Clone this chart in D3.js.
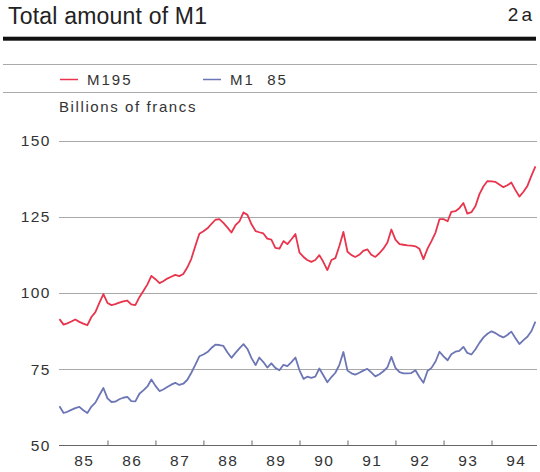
<!DOCTYPE html>
<html><head><meta charset="utf-8">
<script src="https://cdn.jsdelivr.net/npm/d3@7"></script>
<style>body{margin:0;background:#fff;}svg{display:block;font-family:"Liberation Sans",Arial,sans-serif;}</style>
</head><body>
<svg id="c" width="540" height="472"></svg>
<script>
const years = ["85","86","87","88","89","90","91","92","93","94"];
const yTicks = [50, 75, 100, 125, 150];
const seriesNames = ["M195", "M1  85"];
const m195 = [
 91.4,89.6,90.0,90.6,91.3,90.5,89.9,89.4,92.1,93.7,96.8,99.6,
 96.7,96.0,96.3,96.8,97.2,97.5,96.2,96.0,98.6,100.6,102.8,105.6,
 104.5,103.2,103.8,104.7,105.3,105.9,105.5,106.2,108.4,111.2,115.5,119.4,
 120.2,121.2,122.6,124.0,124.2,123.0,121.5,119.8,122.2,123.5,126.4,125.6,
 122.5,120.3,119.9,119.5,117.8,117.5,114.8,114.5,117.0,116.0,117.6,119.3,
 113.2,111.8,110.8,110.2,110.8,112.4,110.2,107.5,110.8,111.4,115.5,120.0,
 113.5,112.4,111.8,112.5,113.8,114.3,112.5,111.8,113.0,114.5,116.5,120.8,
 117.5,116.0,115.8,115.6,115.5,115.3,114.5,111.1,114.5,117.0,119.8,124.2,
 124.2,123.5,126.6,126.8,127.8,129.5,126.0,126.5,128.5,132.4,135.0,136.7,
 136.6,136.4,135.6,134.7,135.3,136.2,133.8,131.6,133.2,135.1,138.5,141.5
];
const m185 = [
 62.8,60.6,61.0,61.6,62.2,62.6,61.5,60.6,62.7,64.0,66.5,68.8,
 65.4,64.2,64.3,65.1,65.6,65.9,64.5,64.4,66.9,68.0,69.3,71.6,
 69.5,67.8,68.3,69.1,69.9,70.5,69.8,70.2,71.5,73.8,76.5,79.2,
 79.8,80.6,81.9,83.0,82.9,82.6,80.5,78.7,80.3,81.8,83.2,81.6,
 78.6,76.3,78.8,77.3,75.5,76.9,75.4,74.6,76.4,76.0,77.3,78.8,
 74.6,71.8,72.5,72.1,72.5,75.2,73.0,70.7,72.4,73.8,76.5,80.6,
 74.5,73.6,73.2,73.8,74.5,75.1,73.9,72.6,73.3,74.3,75.6,79.0,
 75.4,74.0,73.6,73.6,73.7,74.6,72.4,70.5,74.4,75.4,77.5,80.7,
 79.2,77.9,79.9,80.7,81.0,82.3,80.3,79.8,81.5,83.6,85.4,86.6,
 87.4,86.8,86.0,85.4,86.2,87.3,85.2,83.2,84.5,85.6,87.5,90.6
];
const colors = ["#e8344c", "#6c76b4"];

const svg = d3.select("#c");
const x = d3.scaleTime().domain([new Date(1985,0,1), new Date(1995,0,1)]).range([59.5, 539.5]);
const y = d3.scaleLinear().domain([50,150]).range([445.3,140.5]);
const dates = m195.map((_, i) => new Date(1985, i, 1));

// title
svg.append("text").attr("x",8).attr("y",24).attr("font-size",23).attr("fill","#222").attr("letter-spacing",0.2).text("Total amount of M1");
svg.append("text").attr("x",535).attr("y",21).attr("font-size",19).attr("fill","#222").attr("letter-spacing",3).attr("text-anchor","end").text("2a");
svg.append("rect").attr("x",3).attr("y",36.7).attr("width",533).attr("height",4).attr("fill","#111");
svg.append("line").attr("x1",3).attr("x2",537).attr("y1",64.5).attr("y2",64.5).attr("stroke","#aaa");
svg.append("line").attr("x1",3).attr("x2",537).attr("y1",92.5).attr("y2",92.5).attr("stroke","#aaa");

// legend
const legX = [60, 203];
seriesNames.forEach((n, i) => {
  svg.append("line").attr("x1",legX[i]).attr("x2",legX[i]+18).attr("y1",79.5).attr("y2",79.5).attr("stroke",colors[i]).attr("stroke-width",1.5);
  svg.append("text").attr("x",legX[i]+27).attr("y",84.5).attr("font-size",15).attr("letter-spacing",2).attr("fill","#333").style("white-space","pre").text(n);
});
svg.append("text").attr("x",59).attr("y",111.5).attr("font-size",15).attr("letter-spacing",1.6).attr("fill","#333").text("Billions of francs");

// grid
svg.append("g").selectAll("line").data(yTicks.filter(d=>d>50)).join("line")
  .attr("x1",59).attr("x2",537).attr("y1",d=>Math.round(y(d))+0.5).attr("y2",d=>Math.round(y(d))+0.5)
  .attr("stroke","#a8a8a8").attr("stroke-width",1);

// y labels
svg.append("g").selectAll("text").data(yTicks).join("text")
  .attr("x",51).attr("y",d=>y(d)+5.5).attr("text-anchor","end").attr("font-size",15.5).attr("letter-spacing",1.5).attr("fill","#333").text(d=>d);

// x axis
const xAxis = d3.axisBottom(x)
  .tickValues(d3.range(1986,1995).map(yy=>new Date(yy,0,1)))
  .tickSize(-5).tickFormat("");
const gx = svg.append("g").attr("transform","translate(0,445.5)").call(xAxis);
gx.select(".domain").attr("stroke","#666").attr("d","M59,0H537");
gx.selectAll(".tick line").attr("stroke","#666");
svg.append("g").selectAll("text").data(years).join("text")
  .attr("x",(d,i)=>x(new Date(1985+i,6,1))+1).attr("y",465.5).attr("text-anchor","middle")
  .attr("font-size",15.5).attr("letter-spacing",1.5).attr("fill","#333").text(d=>d);

// lines
const line = d3.line().x((d,i)=>x(dates[i])).y(d=>y(d));
[m195, m185].forEach((s, i) => {
  svg.append("path").datum(s).attr("d",line).attr("fill","none")
    .attr("stroke",colors[i]).attr("stroke-width",1.8).attr("stroke-linejoin","round");
});
</script>
</body></html>
